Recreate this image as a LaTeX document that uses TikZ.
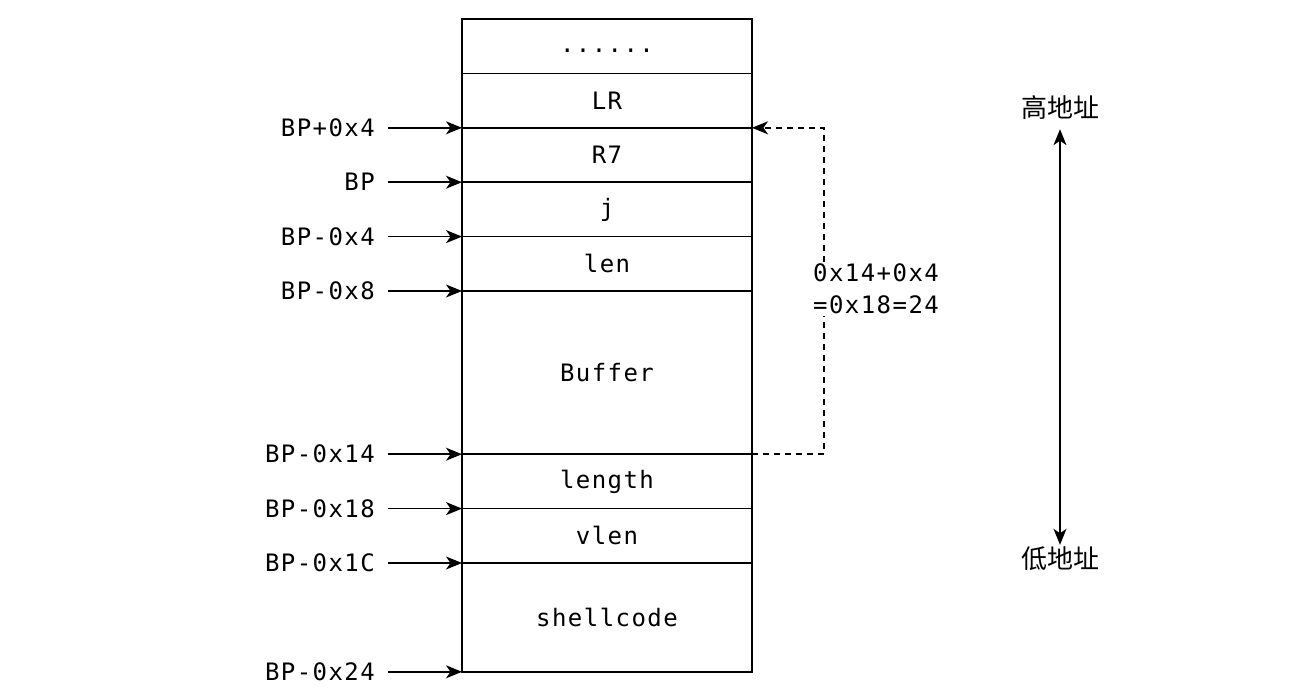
\documentclass[tikz,border=0pt]{standalone}
\usepackage{fontspec}
\setmainfont{DejaVu Sans Mono}[LetterSpace=6]
\newfontfamily\cjk{Noto Sans CJK SC}
\usetikzlibrary{arrows.meta,positioning}

\begin{document}
\begin{tikzpicture}[x=1pt,y=-1pt,
  >={Stealth[length=16pt,width=13pt,inset=4.5pt]},
  cell/.style={draw,line width=1.5pt,minimum width=290pt,inner sep=0pt,outer sep=0pt,
               font=\fontsize{24}{28}\selectfont},
  addr/.style={inner sep=0pt,font=\fontsize{24}{28}\selectfont},
  ptr/.style={->,line width=1.5pt}]
\useasboundingbox (0,0) rectangle (1307,695);
% Sizes
\def\Row{54.4pt}
\def\Tail{++(13,0)}

% Stack frame
\node[cell,minimum height=\Row,anchor=north west] (dots) at (462,19) {\vphantom{Ag}......};
\node[cell,minimum height=\Row,below=0pt of dots]   (lr)     {LR};
\node[cell,minimum height=\Row,below=0pt of lr]     (r7)     {R7};
\node[cell,minimum height=\Row,below=0pt of r7]     (j)      {j};
\node[cell,minimum height=\Row,below=0pt of j]      (len)    {len};
\node[cell,minimum height=163.2pt,below=0pt of len] (buffer) {Buffer};
\node[cell,minimum height=\Row,below=0pt of buffer] (length) {length};
\node[cell,minimum height=\Row,below=0pt of length] (vlen)   {vlen};
\node[cell,minimum height=108.8pt,below=0pt of vlen] (shell) {shellcode};

% Addresses
\node[addr,left=87pt of lr.south west]     (bpP4)  {BP+0x4};
\node[addr,left=87pt of r7.south west]     (bp)    {BP};
\node[addr,left=87pt of j.south west]      (bpM4)  {BP-0x4};
\node[addr,left=87pt of len.south west]    (bpM8)  {BP-0x8};
\node[addr,left=87pt of buffer.south west] (bpM14) {BP-0x14};
\node[addr,left=87pt of length.south west] (bpM18) {BP-0x18};
\node[addr,left=87pt of vlen.south west]   (bpM1C) {BP-0x1C};
\node[addr,left=87pt of shell.south west]  (bpM24) {BP-0x24};

\draw[ptr] (bpP4.east)\Tail  -- (lr.south west);
\draw[ptr] (bp.east)\Tail    -- (r7.south west);
\draw[ptr] (bpM4.east)\Tail  -- (j.south west);
\draw[ptr] (bpM8.east)\Tail  -- (len.south west);
\draw[ptr] (bpM14.east)\Tail -- (buffer.south west);
\draw[ptr] (bpM18.east)\Tail -- (length.south west);
\draw[ptr] (bpM1C.east)\Tail -- (vlen.south west);
\draw[ptr] (bpM24.east)\Tail -- (shell.south west);

% Distance
\draw[ptr,dash pattern=on 6pt off 5pt] (length.north east) -- ++(72,0) |- (r7.north east);
\node[addr,anchor=west,align=left,fill=white,inner sep=2pt,
      font=\fontsize{24}{32}\selectfont] (dist) at (811,289)
  {0x14+0x4\\=0x18=24};

% Direction
\node[inner sep=0pt,font=\cjk\fontsize{26}{30}\selectfont] (high) at (1060,108) {高地址};
\node[inner sep=0pt,font=\cjk\fontsize{26}{30}\selectfont] (low)  at (1060,559) {低地址};
\draw[<->,line width=1.5pt,shorten <=9pt,shorten >=2pt] (high.south) -- (low.north);

\end{tikzpicture}
\end{document}
